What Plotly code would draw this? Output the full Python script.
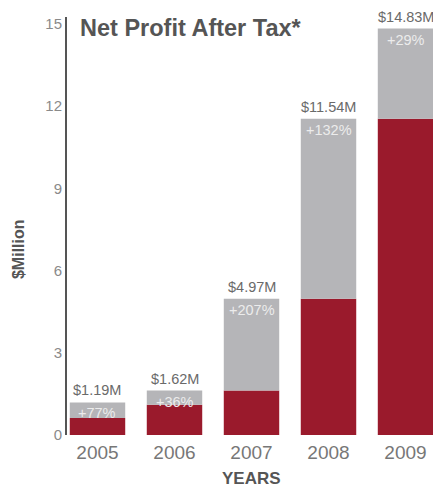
import plotly.graph_objects as go

years = ["2005", "2006", "2007", "2008", "2009"]
profit = [1.19, 1.62, 4.97, 11.54, 14.83]      # $M, net profit after tax
prior = [0.62, 1.1, 1.62, 4.97, 11.54]         # previous year's level, $M
growth = ["+77%", "+36%", "+207%", "+132%", "+29%"]
value_labels = ["$1.19M", "$1.62M", "$4.97M", "$11.54M", "$14.83M"]
y_ticks = [0, 3, 6, 9, 12, 15]

RED = "#9a1a2c"
GREY = "#b5b5b8"
FONT = "Liberation Sans, Arial, sans-serif"

xpos = list(range(len(years)))
increase = [p - q for p, q in zip(profit, prior)]

fig = go.Figure()
fig.add_bar(x=xpos, y=prior, marker_color=RED, width=0.72,
            marker_line_width=0, hoverinfo="skip")
fig.add_bar(x=xpos, y=increase, base=prior, marker_color=GREY, width=0.72,
            marker_line_width=0, hoverinfo="skip")

annotations = []
for x, top, lab, g in zip(xpos, profit, value_labels, growth):
    annotations.append(dict(x=x, y=top, text=lab, showarrow=False,
                            yanchor="bottom", yshift=2,
                            font=dict(family=FONT, size=14.5, color="#6a6a6a")))
    annotations.append(dict(x=x, y=top, text=g, showarrow=False,
                            yanchor="top", yshift=-1,
                            font=dict(family=FONT, size=14.5, color="#ececec")))

# chart title
annotations.append(dict(xref="paper", yref="paper", x=0.030, y=0.974,
                        xanchor="left", yanchor="middle", showarrow=False,
                        text="<b>Net Profit After Tax*</b>",
                        font=dict(family=FONT, size=23.5, color="#555555")))
# axis titles
annotations.append(dict(xref="paper", yref="paper", x=0.503, y=-0.105,
                        xanchor="center", yanchor="middle", showarrow=False,
                        text="<b>YEARS</b>",
                        font=dict(family=FONT, size=17, color="#555555")))
annotations.append(dict(xref="paper", yref="paper", x=-0.131, y=0.445,
                        xanchor="center", yanchor="middle", showarrow=False,
                        text="<b>$Million</b>", textangle=-90,
                        font=dict(family=FONT, size=16, color="#555555")))

fig.update_layout(
    width=433, height=489,
    margin=dict(l=67, r=0, t=17, b=54),
    paper_bgcolor="white", plot_bgcolor="white",
    barmode="overlay", showlegend=False,
    annotations=annotations,
    xaxis=dict(range=[-0.396, 4.357], tickmode="array", tickvals=xpos,
               ticktext=years, showgrid=False, zeroline=False,
               showline=False, ticks="", ticklen=0, ticklabelstandoff=4,
               tickfont=dict(family=FONT, size=19, color="#777777")),
    yaxis=dict(range=[0, 15.25], tickvals=y_ticks, showgrid=False,
               zeroline=False, showline=True, linecolor="#555555",
               linewidth=2, ticks="", ticklen=0,
               tickfont=dict(family=FONT, size=15, color="#8a8a8a")),
)

fig.write_html("out.html")
